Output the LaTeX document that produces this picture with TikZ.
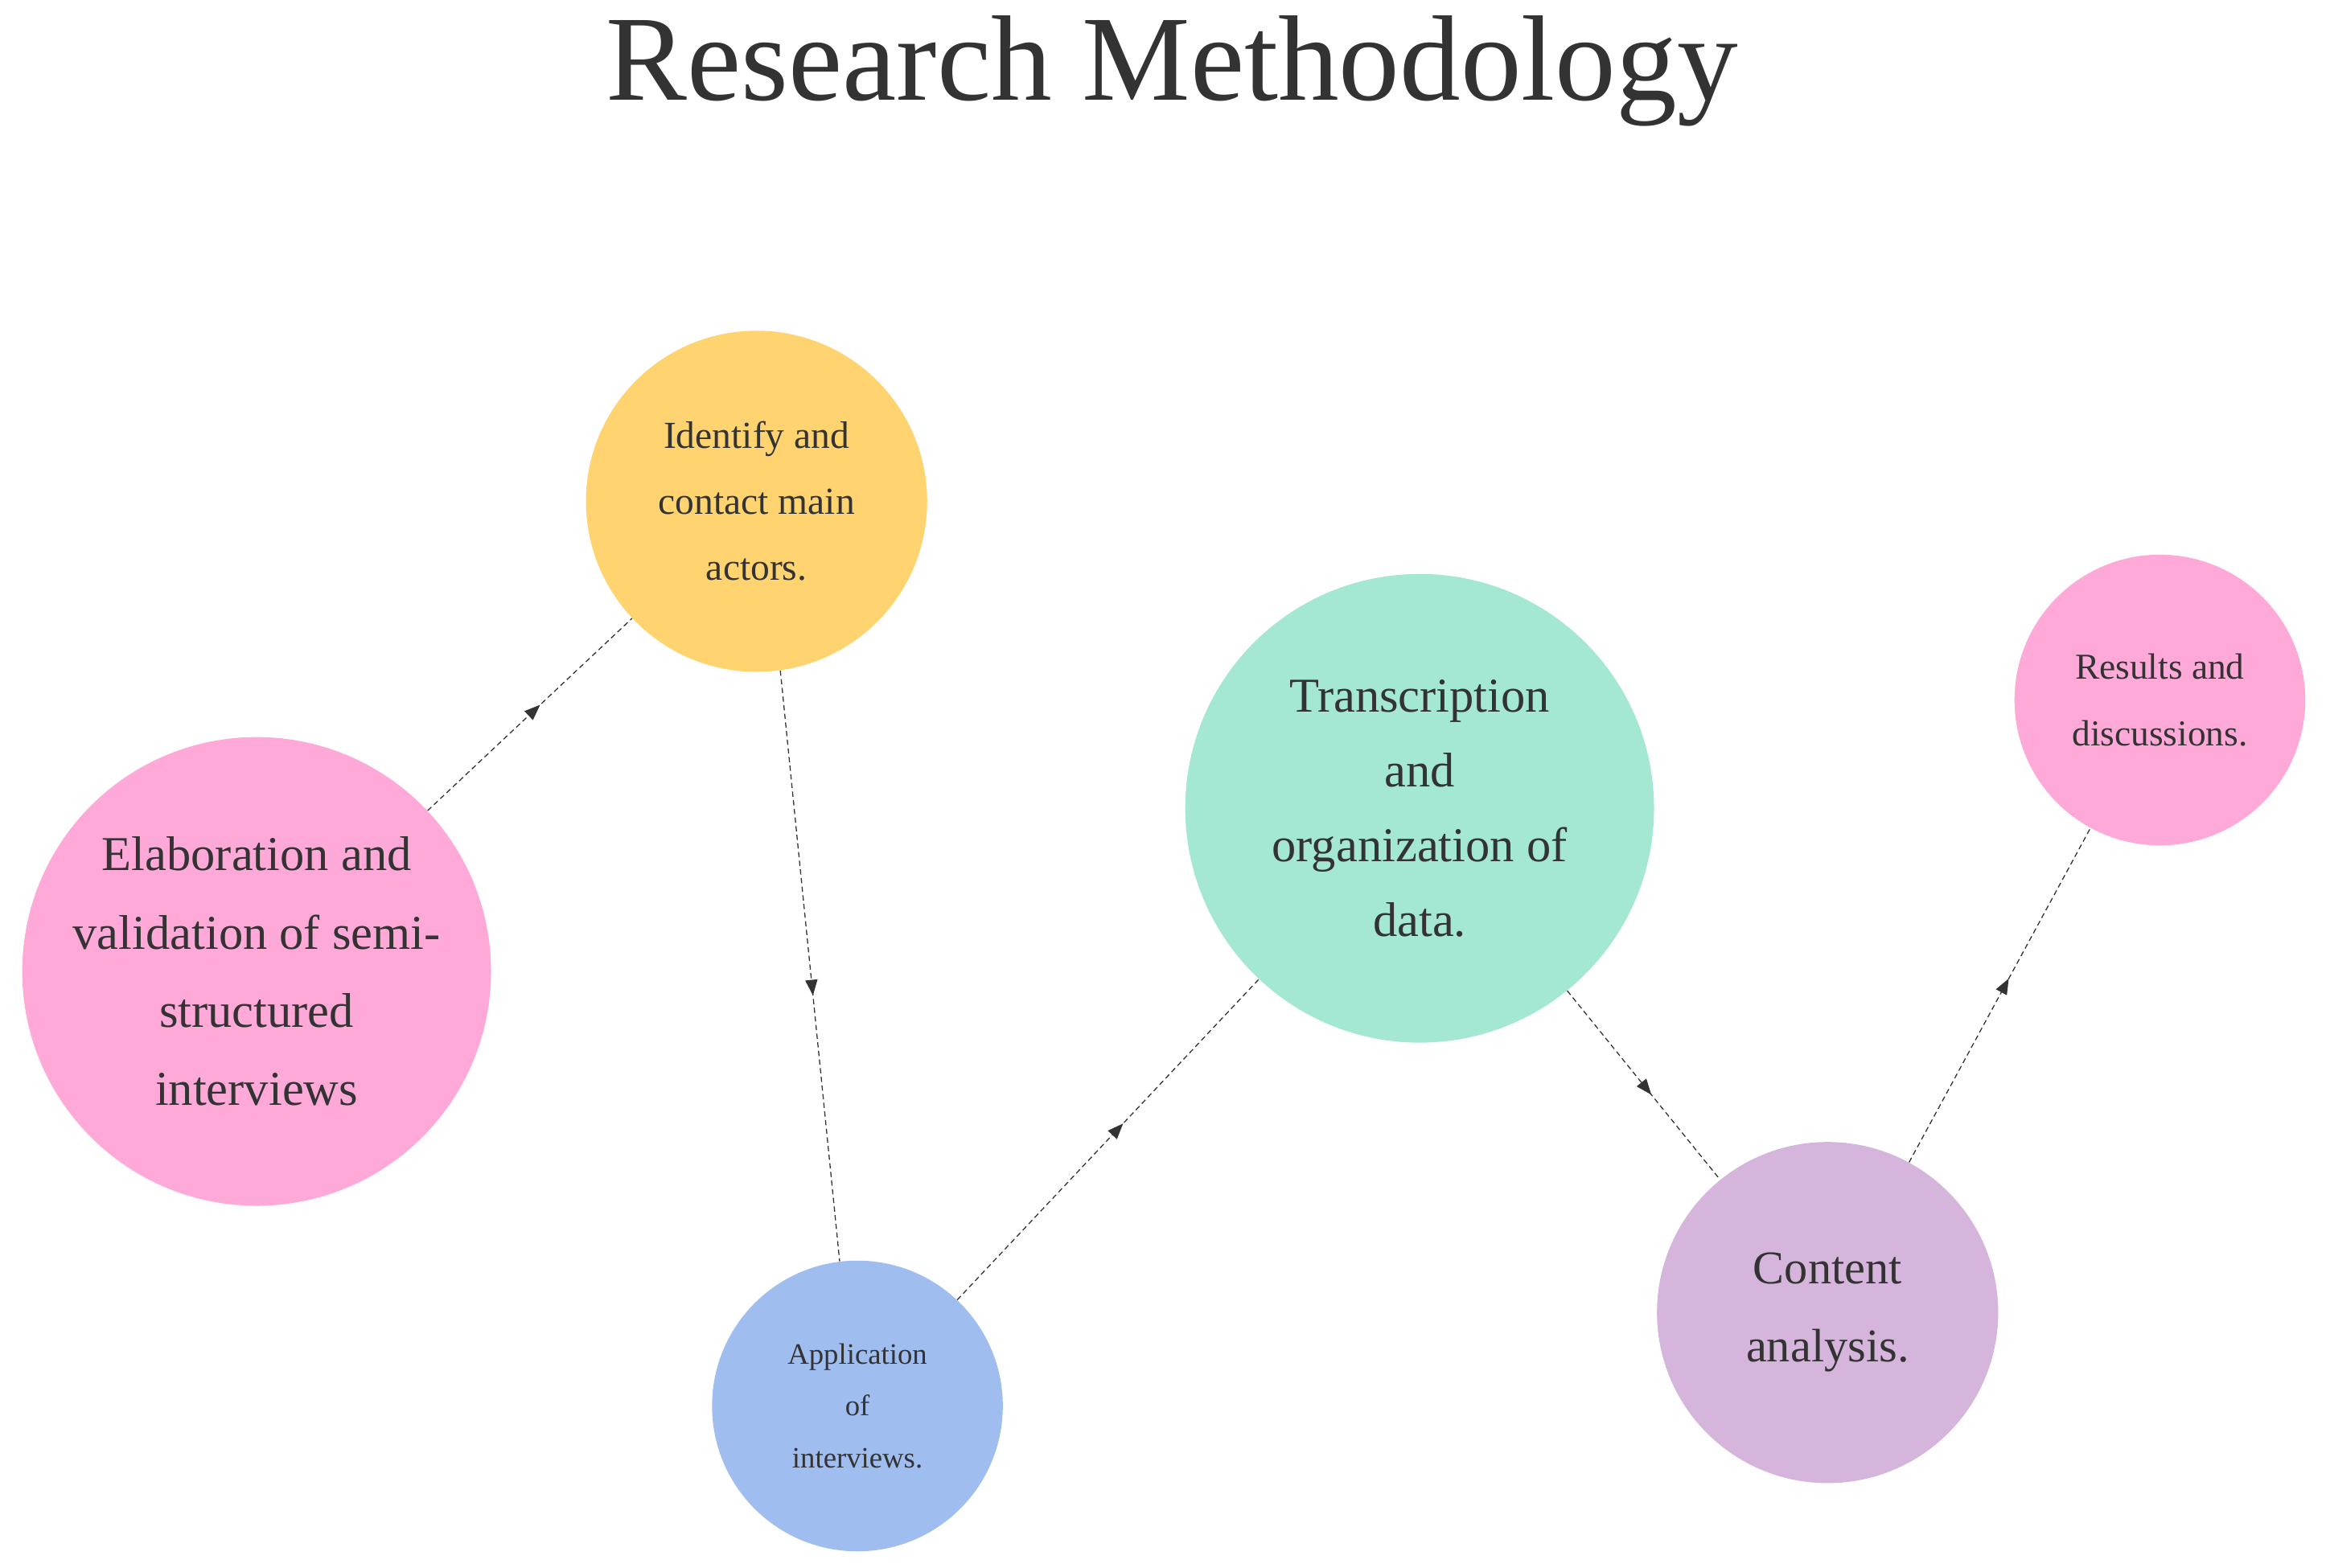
\documentclass[tikz,border=0pt]{standalone}
\usepackage{fontspec}
\setmainfont{Liberation Serif}
\usetikzlibrary{arrows.meta,decorations.markings}
\definecolor{cyel}{HTML}{FFD470}
\definecolor{cpink}{HTML}{FFA9D9}
\definecolor{cblue}{HTML}{A0BDF0}
\definecolor{cgreen}{HTML}{A4E7D3}
\definecolor{cpurp}{HTML}{D5B5DC}
\definecolor{ctext}{HTML}{333333}
\begin{document}
\begin{tikzpicture}[x=0.03cm,y=-0.03cm,
  circ/.style={circle,inner sep=0pt,align=center,text=ctext},
  flow/.style={densely dashed,line width=0.6pt,draw=black!80,
    postaction={decorate},decoration={markings,mark=at position 0.55 with {\arrow{Triangle[length=9pt,width=7pt]}}}}]
\useasboundingbox (0,0) rectangle (1568,1057);
\node[text=ctext,font=\fontsize{70}{80}\selectfont] (title) at (790,48) {Research Methodology};
\node[circ,fill=cyel,minimum size=230\pgflinewidth*0+6.9cm,font=\fontsize{22}{38}\selectfont] (a) at (510,338) {Identify and\\contact main\\actors.};
\node[circ,fill=cpink,minimum size=9.48cm,font=\fontsize{28}{45}\selectfont] (p) at (173,655) {Elaboration and\\validation of semi-\\structured\\interviews};
\node[circ,fill=cblue,minimum size=5.88cm,font=\fontsize{17}{30}\selectfont] (b) at (578,948) {Application\\of\\interviews.};
\node[circ,fill=cgreen,minimum size=9.48cm,font=\fontsize{28}{43}\selectfont] (g) at (957,545) {Transcription\\and\\organization of\\data.};
\node[circ,fill=cpurp,minimum size=6.9cm,font=\fontsize{27}{45}\selectfont] (c) at (1232,885) {Content\\analysis.};
\node[circ,fill=cpink,minimum size=5.88cm,font=\fontsize{21}{38}\selectfont] (r) at (1456,472) {Results and\\discussions.};
\draw[flow] (p) -- (a);
\draw[flow] (a.-82) -- (b.97);
\draw[flow] (b) -- (g);
\draw[flow] (g) -- (c);
\draw[flow] (c) -- (r);
\end{tikzpicture}
\end{document}
